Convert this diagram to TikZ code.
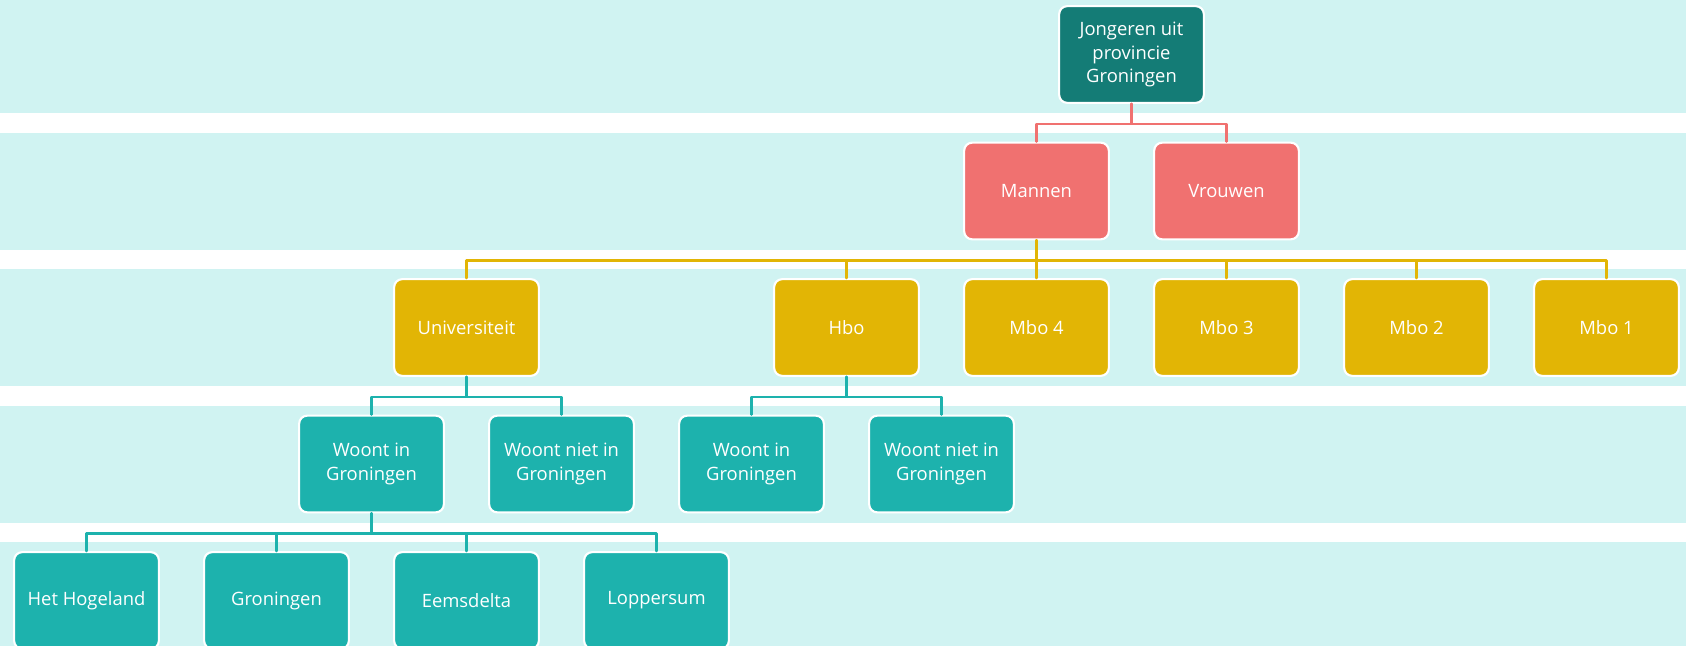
\documentclass[tikz,border=0pt]{standalone}
\usepackage{fontspec}
\setmainfont{Open Sans}
\definecolor{bandc}{RGB}{208,243,242}
\definecolor{topc}{RGB}{20,124,118}
\definecolor{redc}{RGB}{240,113,112}
\definecolor{goldc}{RGB}{226,181,5}
\definecolor{tealc}{RGB}{29,178,173}
\begin{document}
\begin{tikzpicture}[
	x=0.75pt,
	y=-0.75pt,
	line join=round,
	line cap=round,
	box/.style={rectangle, rounded corners=6pt, draw=white, line width=1.6pt,
		minimum width=108.5pt, minimum height=72.5pt, inner sep=2pt,
		text=white, align=center, font=\fontsize{13.8}{17.5}\selectfont},
	link/.style={line width=1.8pt},
	]
\useasboundingbox (0,0) rectangle (1686,646);
\foreach \a/\b in {0/113, 133/250, 269/386, 406/523, 542/646}
	\fill[bandc] (0,\a) rectangle (1686,\b);
% boxes, left edge 14 + 190k
\node[box, fill=topc] (root) at (86.5+190*5.5,54.5) {Jongeren uit\\provincie\\Groningen};
\node[box, fill=redc] (mannen) at (86.5+190*5,191) {Mannen};
\node[box, fill=redc] (vrouwen) at (86.5+190*6,191) {Vrouwen};
\foreach \n/\k/\t in {univ/2/Universiteit, hbo/4/Hbo, mbo4/5/Mbo 4, mbo3/6/Mbo 3, mbo2/7/Mbo 2, mbo1/8/Mbo 1}
	\node[box, fill=goldc] (\n) at (86.5+190*\k,327.5) {\t};
\node[box, fill=tealc] (uin) at (86.5+190*1.5,464) {Woont in\\Groningen};
\node[box, fill=tealc] (uniet) at (86.5+190*2.5,464) {Woont niet in\\Groningen};
\node[box, fill=tealc] (hin) at (86.5+190*3.5,464) {Woont in\\Groningen};
\node[box, fill=tealc] (hniet) at (86.5+190*4.5,464) {Woont niet in\\Groningen};
\foreach \n/\k/\t in {hog/0/Het Hogeland, gron/1/Groningen, eems/2/Eemsdelta, lop/3/Loppersum}
	\node[box, fill=tealc] (\n) at (86.5+190*\k,600.5) {\t};
% connectors
\foreach \n in {mannen, vrouwen}
	\draw[link, redc] (root.south) -- ++(0,20) -| (\n.north);
\foreach \n in {univ, hbo, mbo4, mbo3, mbo2, mbo1}
	\draw[link, goldc] (mannen.south) -- ++(0,20) -| (\n.north);
\foreach \n in {uin, uniet}
	\draw[link, tealc] (univ.south) -- ++(0,20) -| (\n.north);
\foreach \n in {hin, hniet}
	\draw[link, tealc] (hbo.south) -- ++(0,20) -| (\n.north);
\foreach \n in {hog, gron, eems, lop}
	\draw[link, tealc] (uin.south) -- ++(0,20) -| (\n.north);
\end{tikzpicture}
\end{document}
